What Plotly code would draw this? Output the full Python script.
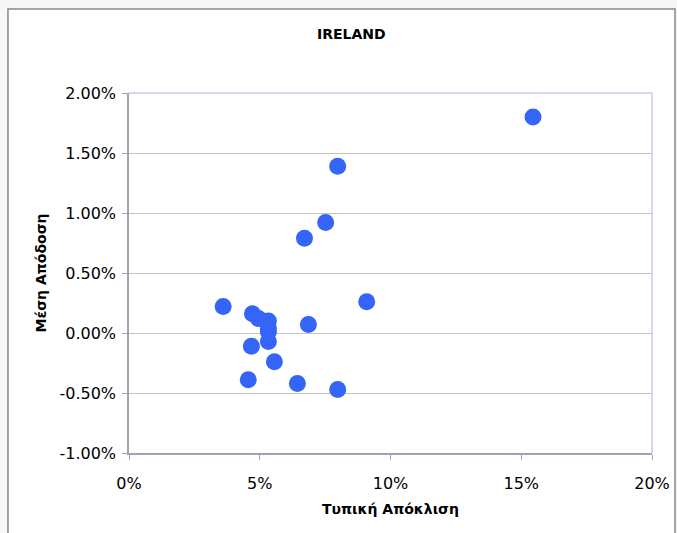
import plotly.graph_objects as go

# Standard deviation (x) and mean return (y) per fund, as fractions
std_dev = [0.1545, 0.0798, 0.0752, 0.0671, 0.0909, 0.0360, 0.0472, 0.0495,
           0.0533, 0.0533, 0.0533, 0.0533, 0.0686, 0.0468, 0.0556, 0.0456,
           0.0644, 0.0798]
mean_ret = [0.0180, 0.0139, 0.0092, 0.0079, 0.0026, 0.0022, 0.0016, 0.0012,
            0.0010, 0.0004, 0.0001, -0.0007, 0.0007, -0.0011, -0.0024, -0.0039,
            -0.0042, -0.0047]

x_ticks = [0, 0.05, 0.10, 0.15, 0.20]
x_tick_text = ["0%", "5%", "10%", "15%", "20%"]
y_ticks = [-0.01, -0.005, 0, 0.005, 0.01, 0.015, 0.02]
y_tick_text = ["-1.00%", "-0.50%", "0.00%", "0.50%", "1.00%", "1.50%", "2.00%"]

FONT = "DejaVu Sans"

fig = go.Figure()
fig.add_trace(go.Scatter(
    x=std_dev, y=mean_ret, mode="markers",
    marker=dict(size=17, color="#3565F8", line=dict(width=0)),
    showlegend=False, cliponaxis=False,
))

fig.update_layout(
    width=677, height=533,
    margin=dict(l=129, r=25, t=93, b=80),
    paper_bgcolor="#f7f7f7",
    plot_bgcolor="white",
    font=dict(family=FONT, size=16, color="black"),
    xaxis=dict(
        range=[0, 0.20], tickvals=x_ticks, ticktext=x_tick_text,
        automargin=False,
        showgrid=False, zeroline=False,
        showline=True, linecolor="#a0a0b8", linewidth=1.5, mirror=False,
        ticks="outside", ticklen=5, tickcolor="#a0a0b8",
        ticklabelstandoff=10,
        title=dict(text="<b>Τυπική Απόκλιση</b>", font=dict(size=14), standoff=12),
    ),
    yaxis=dict(
        range=[-0.01, 0.02], tickvals=y_ticks, ticktext=y_tick_text,
        automargin=False,
        showgrid=True, gridcolor="#c4c4c4", gridwidth=1, zeroline=False,
        showline=True, linecolor="#a0a0b8", linewidth=1.5,
        ticks="outside", ticklen=5, tickcolor="#a0a0b8",
        ticklabelstandoff=3,
        title=dict(text="<b>Μέση Απόδοση</b>", font=dict(size=14), standoff=10),
    ),
    shapes=[
        # chart frame
        dict(type="rect", xref="paper", yref="paper",
             x0=-0.2314, x1=1.044, y0=-0.26, y1=1.2333,
             fillcolor="white", line=dict(color="#888888", width=1.5), layer="below"),
        # plot area border (top and right)
        dict(type="line", xref="paper", yref="paper", x0=0, x1=1, y0=1, y1=1,
             line=dict(color="#c8c8ec", width=1.5)),
        dict(type="line", xref="paper", yref="paper", x0=1, x1=1, y0=0, y1=1,
             line=dict(color="#c8c8ec", width=1.5)),
    ],
    annotations=[
        dict(text="<b>IRELAND</b>", xref="paper", yref="paper",
             x=0.4245, y=1.164, showarrow=False, font=dict(size=14, family=FONT),
             xanchor="center", yanchor="middle"),
    ],
)

fig.write_html("out.html")
